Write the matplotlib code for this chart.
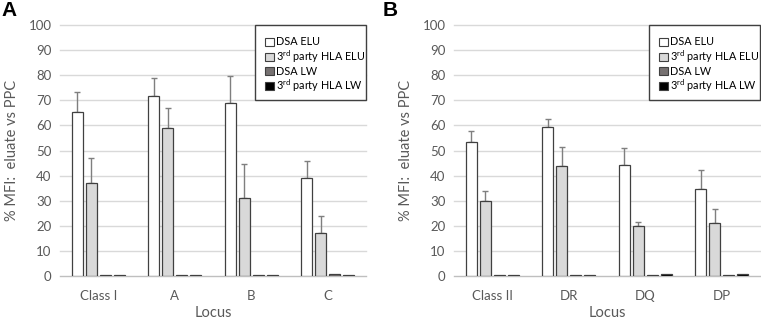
import numpy as np
import matplotlib
matplotlib.use("Agg")
from matplotlib import pyplot as plt
from matplotlib.patches import Patch, Rectangle

plt.rcParams["font.family"] = ["Lato", "DejaVu Sans"]
plt.rcParams["mathtext.fontset"] = "custom"
plt.rcParams["mathtext.rm"] = "Lato"

# Data
series = ["DSA ELU", "3$^{\\rm rd}$ party HLA ELU", "DSA LW", "3$^{\\rm rd}$ party HLA LW"]
colors = ["#ffffff", "#d9d9d9", "#767171", "#000000"]

loci_a = ["Class I", "A", "B", "C"]
dsa_elu_a = [65.2, 71.8, 68.8, 38.9]
dsa_elu_err_a = [8.0, 7.0, 10.8, 6.9]
third_elu_a = [37.2, 59.0, 31.0, 17.2]
third_elu_err_a = [9.8, 7.9, 13.5, 6.6]
dsa_lw_a = [0.3, 0.2, 0.3, 0.6]
third_lw_a = [0.3, 0.2, 0.3, 0.5]

loci_b = ["Class II", "DR", "DQ", "DP"]
dsa_elu_b = [53.5, 59.5, 44.3, 34.7]
dsa_elu_err_b = [4.1, 3.1, 6.5, 7.7]
third_elu_b = [30.0, 43.8, 20.0, 21.0]
third_elu_err_b = [4.0, 7.5, 1.5, 5.5]
dsa_lw_b = [0.3, 0.2, 0.5, 0.5]
third_lw_b = [0.5, 0.2, 0.9, 0.9]

GRAY_TXT = "#595959"
EDGE = "#404040"


def draw_panel(ax, loci, values, errors, letter, letter_x):
    x = np.arange(len(loci))
    width = 0.15
    step = 0.183
    for i, vals in enumerate(values):
        pos = x + (i - 1.5) * step
        ax.bar(pos, vals, width, color=colors[i], edgecolor=EDGE, linewidth=0.9, zorder=3)
        if errors[i] is not None:
            err = np.array(errors[i])
            ax.errorbar(pos, vals, yerr=[np.zeros_like(err), err], fmt="none",
                        ecolor="#7f7f7f", elinewidth=1.0, capsize=2, capthick=1.0, zorder=2)

    ax.set_ylim(0, 100)
    ax.set_xlim(-0.5, len(loci) - 0.5)
    for y in range(0, 101, 10):
        ax.axhline(y, color="#bfbfbf" if y == 0 else "#d9d9d9", linewidth=1.0,
                   zorder=1, clip_on=False)
    for s in ax.spines.values():
        s.set_visible(False)
    ax.set_yticks(range(0, 101, 10))
    ax.set_xticks(x, loci)
    ax.tick_params(length=0, labelsize=9.5, labelcolor=GRAY_TXT, pad=6)
    ax.tick_params(axis="x", pad=10)
    ax.set_xlabel("Locus", fontsize=10.5, color=GRAY_TXT)
    ax.xaxis.set_label_coords(0.5, -0.118)
    ax.set_ylabel("% MFI:  eluate vs PPC", fontsize=10.5, color=GRAY_TXT, labelpad=7)

    # Legend box
    box = Rectangle((0.637, 0.70), 0.363, 0.30, transform=ax.transAxes, fill=True,
                    facecolor="white", edgecolor=EDGE, linewidth=1.0, zorder=4, clip_on=False)
    ax.add_patch(box)
    handles = [Patch(facecolor=c, edgecolor=EDGE, linewidth=0.8) for c in colors]
    leg = ax.legend(handles, series, loc="upper left", bbox_to_anchor=(0.645, 0.985),
                    frameon=False, fontsize=7.8, handlelength=0.85, handleheight=0.75,
                    handletextpad=0.2, labelspacing=0.08, borderpad=0.2)
    leg.set_zorder(5)

    ax.text(letter_x, 1.056, letter, transform=ax.transAxes, fontsize=15, fontweight="bold",
            family="Liberation Sans", ha="left", va="center")


fig = plt.figure(figsize=(7.61, 3.19), dpi=100)
ax_a = fig.add_axes([60 / 761, 43 / 319, 306 / 761, 251 / 319])
ax_b = fig.add_axes([454 / 761, 43 / 319, 306 / 761, 251 / 319])

draw_panel(ax_a, loci_a,
           [dsa_elu_a, third_elu_a, dsa_lw_a, third_lw_a],
           [dsa_elu_err_a, third_elu_err_a, None, None], "A", -0.19)
draw_panel(ax_b, loci_b,
           [dsa_elu_b, third_elu_b, dsa_lw_b, third_lw_b],
           [dsa_elu_err_b, third_elu_err_b, None, None], "B", -0.232)

fig.savefig("out.png", dpi=100)
